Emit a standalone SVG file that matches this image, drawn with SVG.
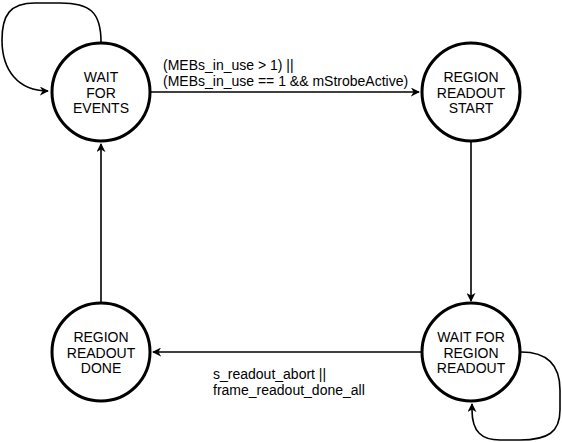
<svg xmlns="http://www.w3.org/2000/svg" width="562" height="442" viewBox="0 0 562 442">
<style>
.st{fill:#fff;stroke:#000;stroke-width:3}
.t{font-family:"Liberation Sans",Arial,sans-serif;font-size:14px;fill:#000}
.c{text-anchor:middle}
.e{fill:none;stroke:#000;stroke-width:1.6}
</style>
<defs>
<marker id="a" viewBox="0 0 10 10" refX="9" refY="5" markerWidth="9" markerHeight="9" markerUnits="userSpaceOnUse" orient="auto">
<path d="M0,0 L10,5 L0,10 L3,5 Z" fill="#000"/>
</marker>
</defs>
<rect width="562" height="442" fill="#fff"/>
<g id="connectors">
<path class="e" d="M101,42 C101,12 90,3 60,3 L35,3 C10,3 2,15 2,40 C2,70 18,91 48,91" marker-end="url(#a)"/>
<path class="e" d="M151,92 L419,92" marker-end="url(#a)"/>
<path class="e" d="M471,142 L471,301" marker-end="url(#a)"/>
<path class="e" d="M421,352 L153,352" marker-end="url(#a)"/>
<path class="e" d="M101,302 L101,144" marker-end="url(#a)"/>
<path class="e" d="M521,352 C548,352 560,365 560,390 L560,410 C560,432 548,440 520,440 L500,440 C482,440 472,432 472,410 L472,404" marker-end="url(#a)"/>
</g>
<g id="label-top">
<text class="t" x="163" y="70">(MEBs_in_use &gt; 1) ||</text>
<text class="t" x="163" y="85.5">(MEBs_in_use == 1 &amp;&amp; mStrobeActive)</text>
</g>
<g id="label-bottom">
<text class="t" x="213" y="379">s_readout_abort ||</text>
<text class="t" x="213" y="395">frame_readout_done_all</text>
</g>
<g id="wait-for-events">
<circle class="st" cx="101" cy="92" r="49"/>
<text class="t c" x="101" y="82">WAIT</text>
<text class="t c" x="101" y="97.5">FOR</text>
<text class="t c" x="101" y="113">EVENTS</text>
</g>
<g id="region-readout-start">
<circle class="st" cx="471" cy="92" r="49"/>
<text class="t c" x="471" y="82">REGION</text>
<text class="t c" x="471" y="97.5">READOUT</text>
<text class="t c" x="471" y="113">START</text>
</g>
<g id="wait-for-region-readout">
<circle class="st" cx="471" cy="352" r="49"/>
<text class="t c" x="471" y="342">WAIT FOR</text>
<text class="t c" x="471" y="357.5">REGION</text>
<text class="t c" x="471" y="373">READOUT</text>
</g>
<g id="region-readout-done">
<circle class="st" cx="101" cy="352" r="49"/>
<text class="t c" x="101" y="342">REGION</text>
<text class="t c" x="101" y="357.5">READOUT</text>
<text class="t c" x="101" y="373">DONE</text>
</g>
</svg>
